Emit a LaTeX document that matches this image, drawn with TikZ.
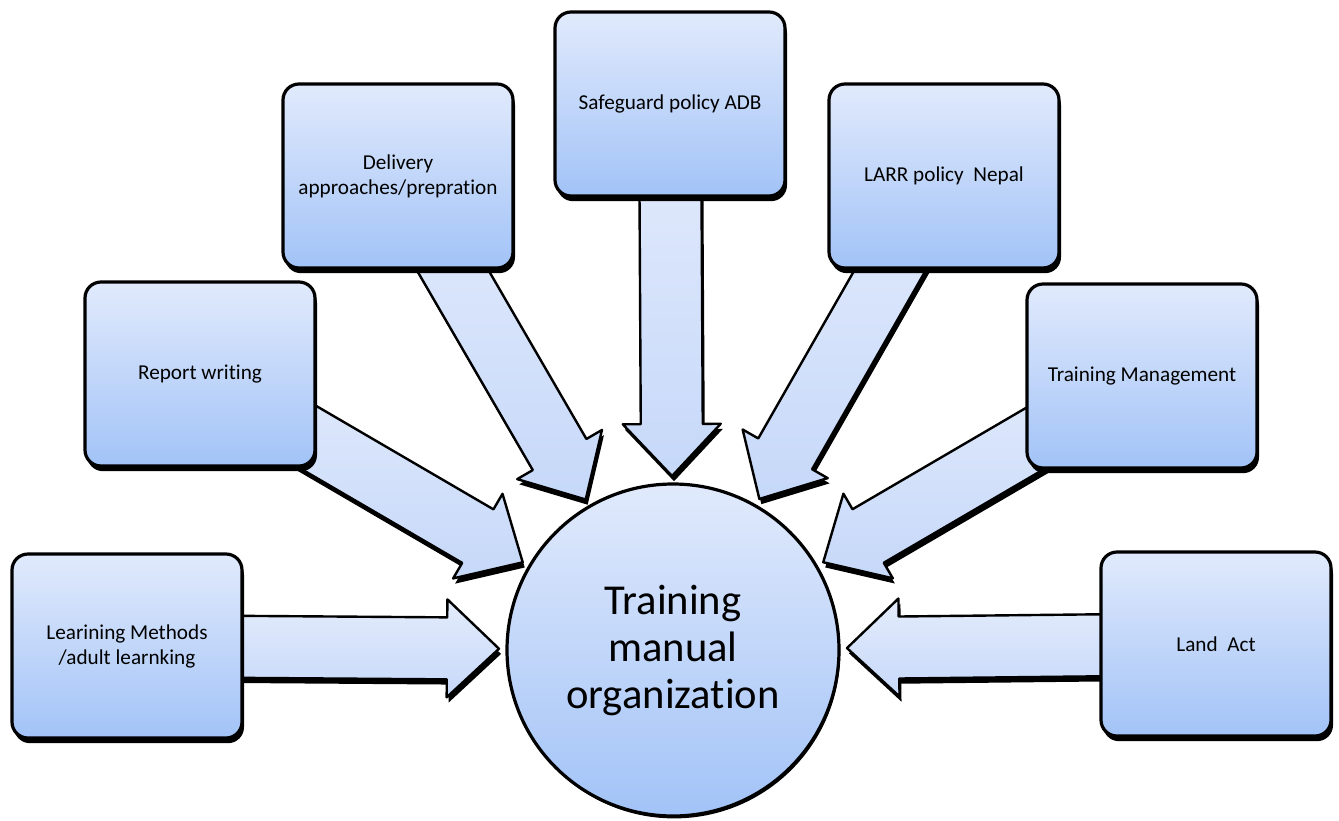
\documentclass[tikz,border=0pt]{standalone}
\usepackage{fontspec}
\setmainfont{Carlito}[Ligatures=NoCommon]
\usetikzlibrary{
    positioning,  % For placing nodes relative to each other
    calc,         % For points along and across the arrow axis
    shadows,      % For the black drop shadows
    backgrounds   % For putting the arrows under the boxes
}

\definecolor{boxtop}{RGB}{225,234,252}
\definecolor{boxbottom}{RGB}{162,195,247}
\definecolor{arrowtop}{RGB}{228,236,252}
\definecolor{arrowbottom}{RGB}{198,216,249}

% Half widths and head length of the block arrows
\def\shafthalf{15.5pt}
\def\headhalf{24.5pt}
\def\headlen{26pt}

% Block arrow from a topic box to the hub circle
\newcommand{\feedarrow}[1]{%
    \coordinate (tip-#1) at ($(hub.center)!87pt!(#1.center)$);
    \coordinate (neck-#1) at ($(tip-#1)!\headlen!(#1.center)$);
    \path[feed_arrow]
        ($(#1.center)!\shafthalf!90:(tip-#1)$)
        -- ($(neck-#1)!\shafthalf!-90:(#1.center)$)
        -- ($(neck-#1)!\headhalf!-90:(#1.center)$)
        -- (tip-#1)
        -- ($(neck-#1)!\headhalf!90:(#1.center)$)
        -- ($(neck-#1)!\shafthalf!90:(#1.center)$)
        -- ($(#1.center)!\shafthalf!-90:(tip-#1)$)
        -- cycle;
}

\begin{document}
\begin{tikzpicture}[
    % Pixel-like units, y pointing down
    x=0.5pt, y=-0.5pt,
    % Style for the shadows
    black_shadow/.style={
        drop shadow={shadow xshift=1pt, shadow yshift=-2.6pt, fill=black, opacity=1}
    },
    % Style for the topic boxes
    topic_box/.style={
        draw=black, line width=1.6pt, rounded corners=8pt,
        top color=boxtop, bottom color=boxbottom,
        minimum width=115pt, minimum height=92pt,
        align=center, font=\fontsize{10.6pt}{12.5pt}\selectfont,
        black_shadow
    },
    % Style for the central circle
    hub_style/.style={
        circle, draw=black, line width=1.6pt,
        top color=boxtop, bottom color=boxbottom,
        minimum size=166pt, inner sep=0pt,
        align=center, font=\fontsize{21.3pt}{23.5pt}\selectfont,
        drop shadow={shadow xshift=0.6pt, shadow yshift=-1.2pt, fill=black, opacity=1}
    },
    % Style for the block arrows
    feed_arrow/.style={
        draw=black, line width=1.2pt, line join=round,
        top color=arrowtop, bottom color=arrowbottom,
        black_shadow
    }
]
    \useasboundingbox (0,0) rectangle (1339,820);

    % 1. The central circle.
    \node[hub_style] (hub) at (673,650) {Training\\manual\\organization};

    % 2. The topic boxes around it.
    \node[topic_box] (learning) at (127,646) {Learining Methods\\/adult learnking};
    \node[topic_box] (report) at (200,374) {Report writing};
    \node[topic_box] (delivery) at (398,176) {Delivery\\approaches/prepration};
    \node[topic_box] (safeguard) at (670,104) {Safeguard policy ADB};
    \node[topic_box] (larr) at (944,176) {LARR policy~~Nepal};
    \node[topic_box] (management) at (1142,376) {Training Management};
    \node[topic_box] (landact) at (1216,644) {Land~~Act};

    % 3. The block arrows, under the boxes.
    \begin{scope}[on background layer]
        \feedarrow{learning}
        \feedarrow{report}
        \feedarrow{delivery}
        \feedarrow{safeguard}
        \feedarrow{larr}
        \feedarrow{management}
        \feedarrow{landact}
    \end{scope}

\end{tikzpicture}
\end{document}
